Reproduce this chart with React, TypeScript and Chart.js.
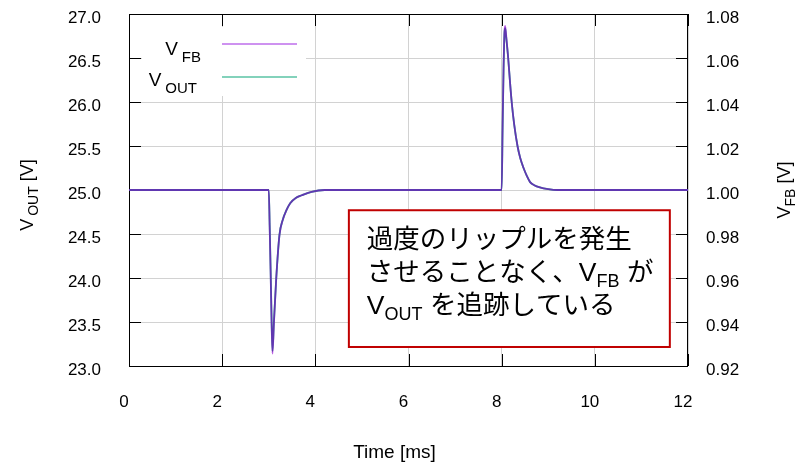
import { useEffect, useRef } from 'react';
import { Chart, registerables } from 'chart.js';

Chart.register(...registerables);

// ---- data ----
const timeMs = [
  0, 3.0, 3.02, 3.04, 3.06, 3.08, 3.11, 3.16, 3.23, 3.3, 3.38, 3.46, 3.58, 3.71, 3.92, 4.2,
  8.0, 8.02, 8.04, 8.06, 8.075, 8.1, 8.14, 8.18, 8.215, 8.27, 8.34, 8.4, 8.47, 8.54, 8.61, 8.7, 8.82, 9.0, 9.2, 12,
];
const voutV = [
  25.0, 25.0, 24.6, 24.1, 23.55, 23.17, 23.49, 23.99, 24.49, 24.66, 24.77, 24.85, 24.91, 24.94, 24.98, 25.0,
  25.0, 25.7, 26.35, 26.78, 26.84, 26.72, 26.5, 26.22, 26.0, 25.74, 25.5, 25.36, 25.25, 25.16, 25.09, 25.055, 25.03, 25.01, 25.0, 25.0,
];
const vfbV = [
  1.0, 1.0, 0.983, 0.963, 0.941, 0.9256, 0.939, 0.9595, 0.9795, 0.9864, 0.9908, 0.994, 0.9964, 0.9976, 0.9992, 1.0,
  1.0, 1.029, 1.055, 1.0718, 1.0746, 1.0695, 1.06, 1.0488, 1.04, 1.0296, 1.02, 1.0144, 1.01, 1.0064, 1.0036, 1.0022, 1.0012, 1.0004, 1.0, 1.0,
];
const xTickValues = [0, 2, 4, 6, 8, 10, 12];
const voutTickValues = [23.0, 23.5, 24.0, 24.5, 25.0, 25.5, 26.0, 26.5, 27.0];
const vfbTickValues = [0.92, 0.94, 0.96, 0.98, 1.0, 1.02, 1.04, 1.06, 1.08];
const noteBoxX = [4.72, 11.61];
const noteBoxY = [23.216, 24.77];

const FB_COLOR = 'rgba(148, 0, 211, 0.65)';
const OUT_COLOR = 'rgb(0, 158, 115)';
const LATIN = '"Liberation Sans", Arial, sans-serif';
const JP = '"Liberation Sans", "Noto Sans CJK JP", sans-serif';

type Seg = { t: string; sub?: boolean; gap?: number };

function drawRich(
  ctx: CanvasRenderingContext2D,
  segs: Seg[],
  x: number,
  y: number,
  size: number,
  subSize: number,
  subShift: number,
  align: 'left' | 'right' | 'center',
  family: string
) {
  ctx.textAlign = 'left';
  ctx.textBaseline = 'alphabetic';
  const widths = segs.map((s) => {
    ctx.font = `${s.sub ? subSize : size}px ${family}`;
    return ctx.measureText(s.t).width + (s.gap || 0);
  });
  const total = widths.reduce((a, b) => a + b, 0);
  let cx = align === 'right' ? x - total : align === 'center' ? x - total / 2 : x;
  segs.forEach((s, i) => {
    ctx.font = `${s.sub ? subSize : size}px ${family}`;
    ctx.fillText(s.t, cx + (s.gap || 0), s.sub ? y + subShift : y);
    cx += widths[i];
  });
}

const decorPlugin = {
  id: 'decor',
  beforeDatasetsDraw(chart: any) {
    const { ctx, chartArea, scales } = chart;
    const { left, right, top, bottom } = chartArea;
    ctx.save();
    // legend background
    ctx.fillStyle = '#ffffff';
    ctx.fillRect(left + 13, top + 13, 164, 69);
    // inward ticks
    ctx.strokeStyle = '#000000';
    ctx.lineWidth = 1;
    ctx.beginPath();
    xTickValues.forEach((v) => {
      const px = Math.round(scales.x.getPixelForValue(v)) + 0.5;
      ctx.moveTo(px, bottom);
      ctx.lineTo(px, bottom - 12);
      ctx.moveTo(px, top);
      ctx.lineTo(px, top + 12);
    });
    voutTickValues.forEach((v) => {
      const py = Math.round(scales.y.getPixelForValue(v)) + 0.5;
      ctx.moveTo(left, py);
      ctx.lineTo(left + 12, py);
      ctx.moveTo(right, py);
      ctx.lineTo(right - 12, py);
    });
    ctx.stroke();
    // frame
    ctx.strokeRect(left + 0.5, top + 0.5, right - left - 1, bottom - top);
    ctx.restore();
  },
  afterDatasetsDraw(chart: any) {
    const { ctx, chartArea, scales } = chart;
    const { left, right, top } = chartArea;
    ctx.save();
    // legend
    ctx.fillStyle = '#000000';
    drawRich(ctx, [{ t: 'V' }, { t: 'FB', sub: true, gap: 4 }], left + 72, top + 41, 19, 15, 7, 'right', LATIN);
    drawRich(ctx, [{ t: 'V' }, { t: 'OUT', sub: true, gap: 4 }], left + 68, top + 72, 19, 15, 7, 'right', LATIN);
    ctx.lineWidth = 1.5;
    ctx.strokeStyle = 'rgb(190, 110, 235)';
    ctx.beginPath();
    ctx.moveTo(left + 93, top + 30);
    ctx.lineTo(left + 168, top + 30);
    ctx.stroke();
    ctx.strokeStyle = 'rgb(90, 195, 165)';
    ctx.beginPath();
    ctx.moveTo(left + 93, top + 63);
    ctx.lineTo(left + 168, top + 63);
    ctx.stroke();

    // annotation box
    const bx0 = scales.x.getPixelForValue(noteBoxX[0]);
    const bx1 = scales.x.getPixelForValue(noteBoxX[1]);
    const by0 = scales.y.getPixelForValue(noteBoxY[1]);
    const by1 = scales.y.getPixelForValue(noteBoxY[0]);
    ctx.fillStyle = '#ffffff';
    ctx.fillRect(bx0, by0, bx1 - bx0, by1 - by0);
    ctx.strokeStyle = '#c00000';
    ctx.lineWidth = 2;
    ctx.strokeRect(bx0, by0, bx1 - bx0, by1 - by0);
    ctx.fillStyle = '#000000';
    drawRich(ctx, [{ t: '過度のリップルを発生' }], bx0 + 18, by0 + 38, 26.5, 18, 6, 'left', JP);
    drawRich(
      ctx,
      [{ t: 'させることなく、V' }, { t: 'FB', sub: true }, { t: ' が' }],
      bx0 + 18, by0 + 71, 26.5, 18, 6, 'left', JP
    );
    drawRich(
      ctx,
      [{ t: 'V' }, { t: 'OUT', sub: true }, { t: ' を追跡している' }],
      bx0 + 18, by0 + 104, 26.5, 18, 6, 'left', JP
    );

    // axis titles
    ctx.fillStyle = '#000000';
    drawRich(ctx, [{ t: 'Time [ms]' }], (left + right) / 2 - 14, 458, 19, 15, 5, 'center', LATIN);
    const midY = scales.y.getPixelForValue(25);
    ctx.save();
    ctx.translate(33, midY + 5);
    ctx.rotate(-Math.PI / 2);
    drawRich(ctx, [{ t: 'V' }, { t: 'OUT', sub: true, gap: 3 }, { t: ' [V]' }], 0, 0, 18, 14, 5, 'center', LATIN);
    ctx.restore();
    ctx.save();
    ctx.translate(790, midY);
    ctx.rotate(-Math.PI / 2);
    drawRich(ctx, [{ t: 'V' }, { t: 'FB', sub: true }, { t: ' [V]' }], 0, 0, 18, 14, 5, 'center', LATIN);
    ctx.restore();
    ctx.restore();
  },
};

export default function App() {
  const ref = useRef<HTMLCanvasElement | null>(null);
  useEffect(() => {
    document.body.style.margin = '0';
    const canvas = ref.current;
    if (!canvas) return;
    const gridColor = '#d2d2d2';
    const tickFont = { family: LATIN, size: 17 };
    const chart = new Chart(canvas, {
      type: 'line',
      data: {
        datasets: [
          {
            label: 'V_FB',
            data: timeMs.map((t, i) => ({ x: t, y: vfbV[i] })),
            yAxisID: 'y1',
            borderColor: FB_COLOR,
            borderWidth: 1.8,
            pointRadius: 0,
            cubicInterpolationMode: 'monotone',
            fill: false,
          },
          {
            label: 'V_OUT',
            data: timeMs.map((t, i) => ({ x: t, y: voutV[i] })),
            yAxisID: 'y',
            borderColor: OUT_COLOR,
            borderWidth: 1.8,
            pointRadius: 0,
            cubicInterpolationMode: 'monotone',
            fill: false,
          },
        ],
      },
      options: {
        responsive: false,
        animation: false,
        devicePixelRatio: 1,
        layout: { padding: { top: 14, left: 0, right: 0, bottom: 0 } },
        plugins: { legend: { display: false }, tooltip: { enabled: false } },
        scales: {
          x: {
            type: 'linear',
            min: 0,
            max: 12,
            afterBuildTicks: (s: any) => {
              s.ticks = xTickValues.map((v) => ({ value: v }));
            },
            afterFit: (s: any) => {
              s.height = 99;
              s.paddingLeft = 0;
              s.paddingRight = 0;
            },
            ticks: {
              font: tickFont,
              color: '#000000',
              padding: 26,
              labelOffset: -5,
              maxRotation: 0,
              autoSkip: false,
              callback: (v: any) => String(v),
            },
            grid: { color: gridColor, drawTicks: false, lineWidth: 1 },
            border: { display: false },
          },
          y: {
            type: 'linear',
            position: 'left',
            min: 23,
            max: 27,
            afterBuildTicks: (s: any) => {
              s.ticks = voutTickValues.map((v) => ({ value: v }));
            },
            afterFit: (s: any) => {
              s.width = 129;
              s.paddingTop = 0;
              s.paddingBottom = 0;
            },
            ticks: {
              font: tickFont,
              color: '#000000',
              padding: 28,
              labelOffset: 4,
              autoSkip: false,
              callback: (v: any) => Number(v).toFixed(1),
            },
            grid: { color: gridColor, drawTicks: false, lineWidth: 1 },
            border: { display: false },
          },
          y1: {
            type: 'linear',
            position: 'right',
            min: 0.92,
            max: 1.08,
            afterBuildTicks: (s: any) => {
              s.ticks = vfbTickValues.map((v) => ({ value: v }));
            },
            afterFit: (s: any) => {
              s.width = 124;
              s.paddingTop = 0;
              s.paddingBottom = 0;
            },
            ticks: {
              font: tickFont,
              color: '#000000',
              padding: 18,
              labelOffset: 4,
              autoSkip: false,
              callback: (v: any) => Number(v).toFixed(2),
            },
            grid: { display: false, drawTicks: false },
            border: { display: false },
          },
        },
      },
      plugins: [decorPlugin],
    } as any);
    return () => chart.destroy();
  }, []);
  return <canvas ref={ref} width={812} height={465} style={{ display: 'block' }} />;
}
